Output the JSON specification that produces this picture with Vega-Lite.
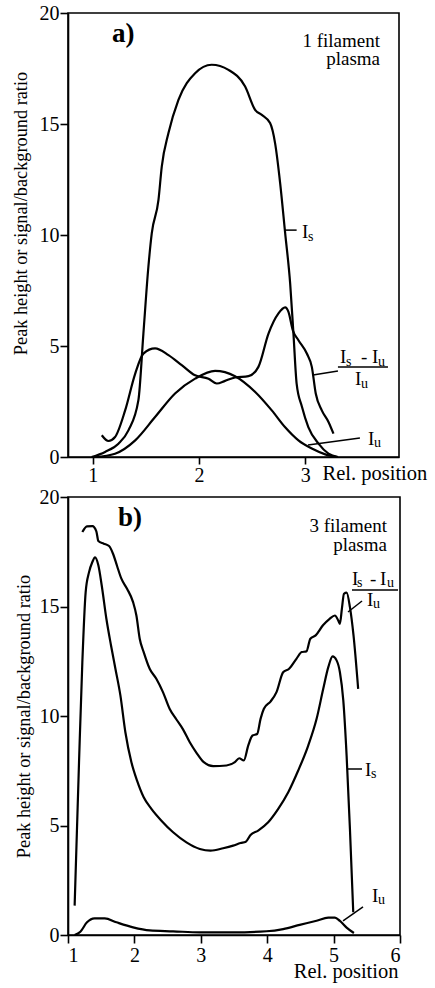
{
  "$schema": "https://vega.github.io/schema/vega-lite/v6.json",
  "background": "white",
  "padding": {"left": 10, "top": 2, "right": 0, "bottom": 0},
  "spacing": 0,
  "columns": 1,
  "align": "none",
  "config": {
    "font": "Liberation Serif",
    "view": {"stroke": "black", "strokeWidth": 1.6},
    "axis": {
      "grid": false,
      "domainColor": "black",
      "domainWidth": 1.6,
      "tickColor": "black",
      "tickWidth": 1.6,
      "labelColor": "black",
      "titleColor": "black",
      "labelFont": "Liberation Serif",
      "titleFont": "Liberation Serif",
      "labelFontSize": 20,
      "titleFontSize": 20.5,
      "titleFontWeight": "normal"
    },
    "text": {"font": "Liberation Serif", "color": "black"}
  },
  "datasets": {
    "a_curves": [
      {"x": 0.99, "y": 0, "s": "Is"}, {"x": 1.116, "y": 0.23, "s": "Is"}, {"x": 1.242, "y": 0.6, "s": "Is"}, {"x": 1.336, "y": 1.2, "s": "Is"}, {"x": 1.43, "y": 2.56, "s": "Is"}, {"x": 1.477, "y": 5.56, "s": "Is"}, {"x": 1.524, "y": 8.57, "s": "Is"}, {"x": 1.556, "y": 10.08, "s": "Is"}, {"x": 1.619, "y": 11.58, "s": "Is"}, {"x": 1.65, "y": 13.08, "s": "Is"}, {"x": 1.713, "y": 14.59, "s": "Is"}, {"x": 1.807, "y": 16.09, "s": "Is"}, {"x": 1.964, "y": 17.29, "s": "Is"}, {"x": 2.12, "y": 17.67, "s": "Is"}, {"x": 2.278, "y": 17.44, "s": "Is"}, {"x": 2.435, "y": 16.69, "s": "Is"}, {"x": 2.529, "y": 15.64, "s": "Is"}, {"x": 2.592, "y": 15.41, "s": "Is"}, {"x": 2.67, "y": 15.04, "s": "Is"}, {"x": 2.717, "y": 14.14, "s": "Is"}, {"x": 2.765, "y": 12.33, "s": "Is"}, {"x": 2.812, "y": 10.08, "s": "Is"}, {"x": 2.859, "y": 7.82, "s": "Is"}, {"x": 2.89, "y": 5.56, "s": "Is"}, {"x": 2.92, "y": 3.31, "s": "Is"}, {"x": 2.97, "y": 2.26, "s": "Is"}, {"x": 3.03, "y": 1.35, "s": "Is"}, {"x": 3.126, "y": 0.6, "s": "Is"}, {"x": 3.22, "y": 0.15, "s": "Is"}, {"x": 3.31, "y": 0, "s": "Is"},
      {"x": 1.085, "y": 0.98, "s": "R"}, {"x": 1.148, "y": 0.72, "s": "R"}, {"x": 1.21, "y": 0.9, "s": "R"}, {"x": 1.305, "y": 2.1, "s": "R"}, {"x": 1.4, "y": 3.76, "s": "R"}, {"x": 1.477, "y": 4.66, "s": "R"}, {"x": 1.587, "y": 4.89, "s": "R"}, {"x": 1.713, "y": 4.59, "s": "R"}, {"x": 1.838, "y": 4.14, "s": "R"}, {"x": 1.964, "y": 3.68, "s": "R"}, {"x": 2.09, "y": 3.53, "s": "R"}, {"x": 2.168, "y": 3.31, "s": "R"}, {"x": 2.246, "y": 3.43, "s": "R"}, {"x": 2.34, "y": 3.58, "s": "R"}, {"x": 2.466, "y": 3.64, "s": "R"}, {"x": 2.56, "y": 4.06, "s": "R"}, {"x": 2.655, "y": 5.56, "s": "R"}, {"x": 2.749, "y": 6.47, "s": "R"}, {"x": 2.812, "y": 6.74, "s": "R"}, {"x": 2.843, "y": 6.54, "s": "R"}, {"x": 2.884, "y": 5.71, "s": "R"}, {"x": 2.937, "y": 5.26, "s": "R"}, {"x": 3.016, "y": 4.66, "s": "R"}, {"x": 3.063, "y": 4.06, "s": "R"}, {"x": 3.1, "y": 2.86, "s": "R"}, {"x": 3.157, "y": 2.1, "s": "R"}, {"x": 3.22, "y": 1.58, "s": "R"}, {"x": 3.267, "y": 1.05, "s": "R"},
      {"x": 1.02, "y": 0, "s": "Iu"}, {"x": 1.21, "y": 0.15, "s": "Iu"}, {"x": 1.4, "y": 0.75, "s": "Iu"}, {"x": 1.587, "y": 1.8, "s": "Iu"}, {"x": 1.775, "y": 2.86, "s": "Iu"}, {"x": 1.964, "y": 3.53, "s": "Iu"}, {"x": 2.152, "y": 3.88, "s": "Iu"}, {"x": 2.34, "y": 3.64, "s": "Iu"}, {"x": 2.53, "y": 2.93, "s": "Iu"}, {"x": 2.686, "y": 2.1, "s": "Iu"}, {"x": 2.81, "y": 1.35, "s": "Iu"}, {"x": 2.937, "y": 0.75, "s": "Iu"}, {"x": 3.063, "y": 0.38, "s": "Iu"}, {"x": 3.19, "y": 0.12, "s": "Iu"}, {"x": 3.3, "y": 0, "s": "Iu"}
    ],
    "b_curves": [
      {"x": 1.216, "y": 18.4, "s": "R"}, {"x": 1.286, "y": 18.66, "s": "R"}, {"x": 1.367, "y": 18.67, "s": "R"}, {"x": 1.427, "y": 18.43, "s": "R"}, {"x": 1.457, "y": 17.99, "s": "R"}, {"x": 1.538, "y": 17.87, "s": "R"}, {"x": 1.618, "y": 17.76, "s": "R"}, {"x": 1.678, "y": 17.41, "s": "R"}, {"x": 1.739, "y": 16.85, "s": "R"}, {"x": 1.804, "y": 16.27, "s": "R"}, {"x": 1.889, "y": 15.81, "s": "R"}, {"x": 1.98, "y": 15.2, "s": "R"}, {"x": 2.03, "y": 14.59, "s": "R"}, {"x": 2.08, "y": 13.53, "s": "R"}, {"x": 2.14, "y": 12.92, "s": "R"}, {"x": 2.23, "y": 12.16, "s": "R"}, {"x": 2.33, "y": 11.7, "s": "R"}, {"x": 2.43, "y": 11.09, "s": "R"}, {"x": 2.53, "y": 10.33, "s": "R"}, {"x": 2.633, "y": 9.84, "s": "R"}, {"x": 2.734, "y": 9.38, "s": "R"}, {"x": 2.834, "y": 8.8, "s": "R"}, {"x": 2.935, "y": 8.32, "s": "R"}, {"x": 3.045, "y": 7.89, "s": "R"}, {"x": 3.186, "y": 7.71, "s": "R"}, {"x": 3.387, "y": 7.74, "s": "R"}, {"x": 3.513, "y": 7.89, "s": "R"}, {"x": 3.578, "y": 8.07, "s": "R"}, {"x": 3.648, "y": 7.97, "s": "R"}, {"x": 3.714, "y": 8.65, "s": "R"}, {"x": 3.779, "y": 9.11, "s": "R"}, {"x": 3.849, "y": 9.18, "s": "R"}, {"x": 3.9, "y": 9.87, "s": "R"}, {"x": 3.95, "y": 10.33, "s": "R"}, {"x": 4.05, "y": 10.66, "s": "R"}, {"x": 4.14, "y": 11.09, "s": "R"}, {"x": 4.24, "y": 12.0, "s": "R"}, {"x": 4.33, "y": 12.16, "s": "R"}, {"x": 4.44, "y": 12.61, "s": "R"}, {"x": 4.52, "y": 12.92, "s": "R"}, {"x": 4.59, "y": 12.95, "s": "R"}, {"x": 4.65, "y": 13.53, "s": "R"}, {"x": 4.73, "y": 13.68, "s": "R"}, {"x": 4.84, "y": 14.14, "s": "R"}, {"x": 4.94, "y": 14.44, "s": "R"}, {"x": 5.02, "y": 14.59, "s": "R"}, {"x": 5.07, "y": 14.36, "s": "R"}, {"x": 5.095, "y": 14.21, "s": "R"}, {"x": 5.125, "y": 14.9, "s": "R"}, {"x": 5.156, "y": 15.58, "s": "R"}, {"x": 5.196, "y": 15.63, "s": "R"}, {"x": 5.246, "y": 14.97, "s": "R"}, {"x": 5.3, "y": 13.68, "s": "R"}, {"x": 5.37, "y": 11.24, "s": "R"},
      {"x": 1.1, "y": 1.34, "s": "Is"}, {"x": 1.166, "y": 7.89, "s": "Is"}, {"x": 1.216, "y": 12.46, "s": "Is"}, {"x": 1.266, "y": 15.66, "s": "Is"}, {"x": 1.317, "y": 16.57, "s": "Is"}, {"x": 1.367, "y": 17.03, "s": "Is"}, {"x": 1.407, "y": 17.24, "s": "Is"}, {"x": 1.457, "y": 16.88, "s": "Is"}, {"x": 1.508, "y": 15.96, "s": "Is"}, {"x": 1.578, "y": 14.44, "s": "Is"}, {"x": 1.648, "y": 13.22, "s": "Is"}, {"x": 1.714, "y": 12.16, "s": "Is"}, {"x": 1.789, "y": 10.94, "s": "Is"}, {"x": 1.864, "y": 9.26, "s": "Is"}, {"x": 1.955, "y": 7.89, "s": "Is"}, {"x": 2.04, "y": 7.05, "s": "Is"}, {"x": 2.14, "y": 6.29, "s": "Is"}, {"x": 2.256, "y": 5.76, "s": "Is"}, {"x": 2.407, "y": 5.22, "s": "Is"}, {"x": 2.583, "y": 4.69, "s": "Is"}, {"x": 2.784, "y": 4.23, "s": "Is"}, {"x": 2.985, "y": 3.93, "s": "Is"}, {"x": 3.146, "y": 3.85, "s": "Is"}, {"x": 3.337, "y": 3.96, "s": "Is"}, {"x": 3.487, "y": 4.08, "s": "Is"}, {"x": 3.598, "y": 4.2, "s": "Is"}, {"x": 3.678, "y": 4.26, "s": "Is"}, {"x": 3.749, "y": 4.57, "s": "Is"}, {"x": 3.864, "y": 4.77, "s": "Is"}, {"x": 4.015, "y": 5.15, "s": "Is"}, {"x": 4.166, "y": 5.76, "s": "Is"}, {"x": 4.317, "y": 6.52, "s": "Is"}, {"x": 4.467, "y": 7.51, "s": "Is"}, {"x": 4.618, "y": 8.65, "s": "Is"}, {"x": 4.744, "y": 9.87, "s": "Is"}, {"x": 4.844, "y": 11.24, "s": "Is"}, {"x": 4.92, "y": 12.23, "s": "Is"}, {"x": 4.985, "y": 12.72, "s": "Is"}, {"x": 5.045, "y": 12.54, "s": "Is"}, {"x": 5.095, "y": 12.0, "s": "Is"}, {"x": 5.146, "y": 10.71, "s": "Is"}, {"x": 5.196, "y": 8.19, "s": "Is"}, {"x": 5.246, "y": 4.84, "s": "Is"}, {"x": 5.296, "y": 1.04, "s": "Is"},
      {"x": 1.1, "y": 0, "s": "Iu"}, {"x": 1.186, "y": 0.15, "s": "Iu"}, {"x": 1.286, "y": 0.58, "s": "Iu"}, {"x": 1.4, "y": 0.76, "s": "Iu"}, {"x": 1.553, "y": 0.76, "s": "Iu"}, {"x": 1.729, "y": 0.58, "s": "Iu"}, {"x": 1.98, "y": 0.35, "s": "Iu"}, {"x": 2.23, "y": 0.21, "s": "Iu"}, {"x": 2.583, "y": 0.17, "s": "Iu"}, {"x": 2.985, "y": 0.12, "s": "Iu"}, {"x": 3.487, "y": 0.12, "s": "Iu"}, {"x": 3.99, "y": 0.17, "s": "Iu"}, {"x": 4.24, "y": 0.27, "s": "Iu"}, {"x": 4.49, "y": 0.46, "s": "Iu"}, {"x": 4.744, "y": 0.65, "s": "Iu"}, {"x": 4.92, "y": 0.79, "s": "Iu"}, {"x": 5.02, "y": 0.79, "s": "Iu"}, {"x": 5.095, "y": 0.64, "s": "Iu"}, {"x": 5.196, "y": 0.34, "s": "Iu"}, {"x": 5.306, "y": 0.09, "s": "Iu"}
    ],
    "a_main": [
      {"x": 2.97, "y": 9.86, "t": "I"},
      {"x": 3.328, "y": 4.234, "t": "I"},
      {"x": 3.526, "y": 4.234, "t": "-"},
      {"x": 3.63, "y": 4.234, "t": "I"},
      {"x": 3.469, "y": 3.243, "t": "I"},
      {"x": 3.592, "y": 0.54, "t": "I"}
    ],
    "a_sub": [
      {"x": 3.027, "y": 9.73, "t": "s"},
      {"x": 3.385, "y": 4.1, "t": "s"},
      {"x": 3.686, "y": 4.1, "t": "u"},
      {"x": 3.526, "y": 3.108, "t": "u"},
      {"x": 3.648, "y": 0.45, "t": "u"}
    ],
    "a_rules": [
      {"x": 2.81, "x2": 2.92, "y": 10.22, "y2": 10.22},
      {"x": 3.309, "x2": 3.78, "y": 4.054, "y2": 4.054},
      {"x": 3.074, "x2": 3.309, "y": 3.694, "y2": 3.874},
      {"x": 3.027, "x2": 3.516, "y": 0.54, "y2": 0.856}
    ],
    "a_note": [
      {"x": 3.705, "y": 18.47, "t": "1 filament"},
      {"x": 3.705, "y": 17.66, "t": "plasma"}
    ],
    "a_tag": [{"x": 1.181, "y": 18.7, "t": "a)"}],
    "b_main": [
      {"x": 5.473, "y": 7.26, "t": "I"},
      {"x": 5.277, "y": 15.98, "t": "I"},
      {"x": 5.548, "y": 15.98, "t": "-"},
      {"x": 5.699, "y": 15.98, "t": "I"},
      {"x": 5.503, "y": 15.02, "t": "I"},
      {"x": 5.578, "y": 1.51, "t": "I"}
    ],
    "b_sub": [
      {"x": 5.563, "y": 7.17, "t": "s"},
      {"x": 5.352, "y": 15.89, "t": "s"},
      {"x": 5.804, "y": 15.89, "t": "u"},
      {"x": 5.593, "y": 14.93, "t": "u"},
      {"x": 5.669, "y": 1.42, "t": "u"}
    ],
    "b_rules": [
      {"x": 5.202, "x2": 5.428, "y": 7.58, "y2": 7.58},
      {"x": 5.277, "x2": 5.97, "y": 15.75, "y2": 15.75},
      {"x": 5.217, "x2": 5.428, "y": 14.75, "y2": 15.25},
      {"x": 5.142, "x2": 5.443, "y": 0.64, "y2": 1.28}
    ],
    "b_note": [
      {"x": 5.804, "y": 18.4, "t": "3 filament"},
      {"x": 5.804, "y": 17.53, "t": "plasma"}
    ],
    "b_tag": [{"x": 1.753, "y": 18.68, "t": "b)"}]
  },
  "resolve": {"scale": {"x": "independent", "y": "independent"}},
  "concat": [
    {
      "width": 331,
      "height": 444,
      "encoding": {
        "x": {"field": "x", "type": "quantitative",
          "scale": {"domain": [0.767, 3.884], "nice": false, "zero": false},
          "axis": {"values": [1, 2, 3], "tickSize": 7, "labelPadding": 1, "title": "Rel. position",
            "titleX": 254, "titleY": 22, "titleAlign": "left", "titleBaseline": "alphabetic"}},
        "y": {"field": "y", "type": "quantitative",
          "scale": {"domain": [0, 20], "nice": false, "zero": false},
          "axis": {"values": [0, 5, 10, 15, 20], "tickSize": 8, "labelPadding": 1, "titlePadding": 9, "titleY": 200,
            "titleFontSize": 18.3,
            "title": "Peak height or signal/background ratio"}}
      },
      "layer": [
        {"data": {"name": "a_curves"}, "mark": {"type": "line", "interpolate": "monotone", "color": "black", "strokeWidth": 2.2},
          "encoding": {"detail": {"field": "s"}}},
        {"data": {"name": "a_rules"}, "mark": {"type": "rule", "color": "black", "strokeWidth": 1.5},
          "encoding": {"x2": {"field": "x2"}, "y2": {"field": "y2"}}},
        {"data": {"name": "a_main"}, "mark": {"type": "text", "align": "left", "baseline": "alphabetic", "fontSize": 19},
          "encoding": {"text": {"field": "t"}}},
        {"data": {"name": "a_sub"}, "mark": {"type": "text", "align": "left", "baseline": "alphabetic", "fontSize": 14},
          "encoding": {"text": {"field": "t"}}},
        {"data": {"name": "a_note"}, "mark": {"type": "text", "align": "right", "baseline": "alphabetic", "fontSize": 19},
          "encoding": {"text": {"field": "t"}}},
        {"data": {"name": "a_tag"}, "mark": {"type": "text", "align": "left", "baseline": "alphabetic", "fontSize": 27, "fontWeight": "bold"},
          "encoding": {"text": {"field": "t"}}}
      ]
    },
    {
      "width": 332,
      "height": 438,
      "encoding": {
        "x": {"field": "x", "type": "quantitative",
          "scale": {"domain": [1, 6], "nice": false, "zero": false},
          "axis": {"values": [1, 2, 3, 4, 5, 6], "tickSize": 8, "labelPadding": 2, "title": "Rel. position",
            "titleX": 330, "titleY": 42, "titleAlign": "right", "titleBaseline": "alphabetic"}},
        "y": {"field": "y", "type": "quantitative",
          "scale": {"domain": [0, 20], "nice": false, "zero": false},
          "axis": {"values": [0, 5, 10, 15, 20], "tickSize": 8, "labelPadding": 1, "titlePadding": 6,
            "titleFontSize": 18.3,
            "title": "Peak height or signal/background ratio"}}
      },
      "layer": [
        {"data": {"name": "b_curves"}, "mark": {"type": "line", "interpolate": "monotone", "color": "black", "strokeWidth": 2.2},
          "encoding": {"detail": {"field": "s"}}},
        {"data": {"name": "b_rules"}, "mark": {"type": "rule", "color": "black", "strokeWidth": 1.5},
          "encoding": {"x2": {"field": "x2"}, "y2": {"field": "y2"}}},
        {"data": {"name": "b_main"}, "mark": {"type": "text", "align": "left", "baseline": "alphabetic", "fontSize": 19},
          "encoding": {"text": {"field": "t"}}},
        {"data": {"name": "b_sub"}, "mark": {"type": "text", "align": "left", "baseline": "alphabetic", "fontSize": 14},
          "encoding": {"text": {"field": "t"}}},
        {"data": {"name": "b_note"}, "mark": {"type": "text", "align": "right", "baseline": "alphabetic", "fontSize": 19},
          "encoding": {"text": {"field": "t"}}},
        {"data": {"name": "b_tag"}, "mark": {"type": "text", "align": "left", "baseline": "alphabetic", "fontSize": 27, "fontWeight": "bold"},
          "encoding": {"text": {"field": "t"}}}
      ]
    }
  ]
}
